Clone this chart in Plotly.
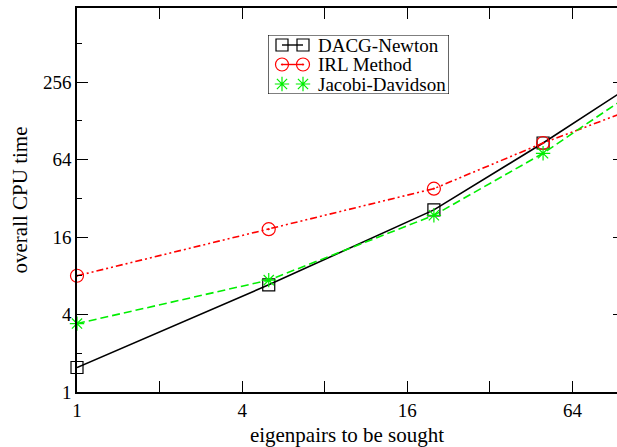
import math
import plotly.graph_objects as go

# eigenpairs sought and CPU time per method
eigenpairs = [1, 5, 20, 50, 100]
dacg_newton = [1.55, 6.8, 26, 86, 225]
irl_method = [8, 18.4, 38, 86, 150]
jacobi_davidson = [3.4, 7.4, 23.6, 71.5, 194]

method_names = ["DACG-Newton", "IRL Method", "Jacobi-Davidson"]

tick_vals = [1, 4, 16, 64, 256]
tick_text = ["1", "4", "16", "64", "256"]
minor_vals = [2, 8, 32, 128, 512]

FONT = "Liberation Serif"
W, H = 617, 447
L, R, T, B = 77, 0, 8, 55

styles = [
    dict(color="black", dash="solid", symbol="square-open", size=12),
    dict(color="red", dash="7px,3px,2px,3px,2px,3px", symbol="circle-open-dot", size=13),
    dict(color="#00ee00", dash="8px,4px", symbol="asterisk-open", size=12),
]

fig = go.Figure()

for name, ys, st in zip(method_names, [dacg_newton, irl_method, jacobi_davidson], styles):
    fig.add_trace(go.Scatter(
        x=eigenpairs, y=ys, name=name, mode="lines+markers",
        line=dict(color=st["color"], width=1.6, dash=st["dash"]),
        marker=dict(symbol=st["symbol"], size=st["size"], color=st["color"],
                    line=dict(color=st["color"], width=1.2)),
        cliponaxis=False, showlegend=False,
    ))

# empty trace so the right-hand tick axis gets drawn
fig.add_trace(go.Scatter(x=[], y=[], yaxis="y3", showlegend=False,
                         hoverinfo="skip"))

# key box, drawn on an overlay axis pair measured in pixels
box = dict(x0=268, x1=449, y0=35, y1=94)
plot_w = W - L - R
plot_h = H - T - B
dom_x = [(box["x0"] - L) / plot_w, (box["x1"] - L) / plot_w]
dom_y = [(H - B - box["y1"]) / plot_h, (H - B - box["y0"]) / plot_h]

row_y = [45, 64.5, 84]
for name, st, ry in zip(method_names, styles, row_y):
    sample_mode = "markers" if st["symbol"].startswith("asterisk") else "lines+markers"
    fig.add_trace(go.Scatter(
        x=[282, 303], y=[ry, ry], xaxis="x2", yaxis="y2",
        mode=sample_mode, showlegend=False, hoverinfo="skip",
        line=dict(color=st["color"], width=1.4),
        marker=dict(symbol=st["symbol"], size=st["size"], color=st["color"],
                    line=dict(color=st["color"], width=1.2)),
        cliponaxis=False,
    ))
    fig.add_annotation(
        x=316, y=ry, xref="x2", yref="y2", text=name, showarrow=False,
        xanchor="left", yanchor="middle",
        font=dict(family=FONT, size=19, color="black"),
    )

fig.add_shape(type="rect", xref="x2", yref="y2",
              x0=box["x0"], x1=box["x1"], y0=box["y0"], y1=box["y1"],
              line=dict(color="black", width=1.2), fillcolor="rgba(0,0,0,0)",
              layer="above")

axis_common = dict(
    type="log", showgrid=False, zeroline=False,
    showline=True, linecolor="black", linewidth=1.5,
    ticks="inside", ticklen=11, tickwidth=1, tickcolor="black",
    tickmode="array", tickvals=tick_vals, ticktext=tick_text,
    tickfont=dict(family=FONT, size=19, color="black"),
    minor=dict(tickmode="array", tickvals=minor_vals, ticks="inside",
               ticklen=5, tickwidth=1, tickcolor="black"),
)

y_range = [0, math.log10(2 ** 9.91)]

fig.update_layout(
    width=W, height=H,
    margin=dict(l=L, r=R, t=T, b=B),
    paper_bgcolor="white", plot_bgcolor="white",
    font=dict(family=FONT, size=19, color="black"),
    showlegend=False,
    xaxis=dict(
        **axis_common,
        mirror="allticks",
        range=[0, math.log10(93)],
        title=dict(text="eigenpairs to be sought", standoff=8,
                   font=dict(family=FONT, size=21, color="black")),
    ),
    yaxis=dict(
        **axis_common,
        mirror=False,
        range=y_range,
        title=dict(text="overall CPU time", standoff=10,
                   font=dict(family=FONT, size=21, color="black")),
    ),
    # stubs of the right-hand ticks at the cut edge of the frame
    yaxis3=dict(
        type="log", overlaying="y", side="right", range=y_range,
        showgrid=False, zeroline=False, showline=False,
        ticks="inside", ticklen=4, tickwidth=1, tickcolor="black",
        tickmode="array", tickvals=tick_vals, showticklabels=False,
    ),
    xaxis2=dict(domain=dom_x, range=[box["x0"], box["x1"]], visible=False,
                anchor="y2", fixedrange=True),
    yaxis2=dict(domain=dom_y, range=[box["y1"], box["y0"]], visible=False,
                anchor="x2", fixedrange=True),
)

fig.write_html("out.html")
